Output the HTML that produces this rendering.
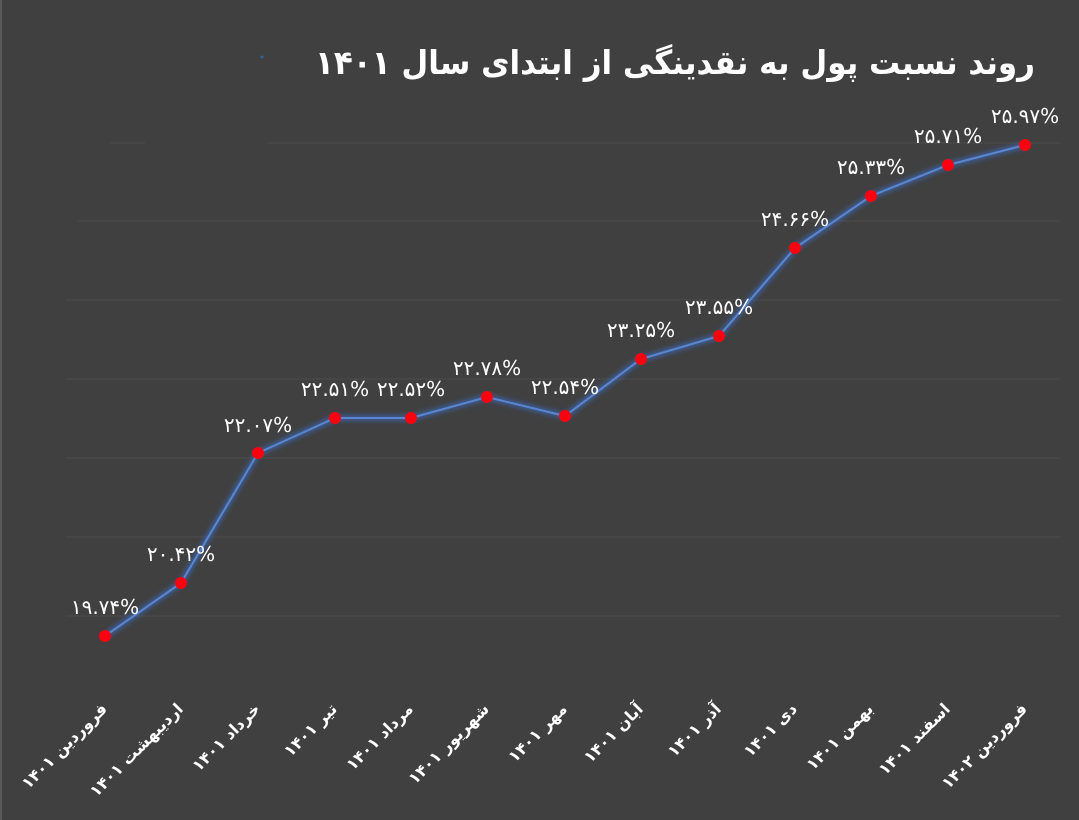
<!DOCTYPE html>
<html><head><meta charset="utf-8"><style>
html,body{margin:0;padding:0;background:#404040;}
svg{display:block}
text{font-family:"DejaVu Sans","Liberation Sans",sans-serif;fill:#fff;}
</style></head><body>
<svg width="1079" height="820" viewBox="0 0 1079 820" xmlns="http://www.w3.org/2000/svg">
<defs><filter id="g" x="-20%" y="-20%" width="140%" height="140%"><feGaussianBlur stdDeviation="2.5"/></filter></defs>
<rect width="1079" height="820" fill="#404040"/>
<line x1="1" y1="0" x2="1" y2="820" stroke="#5a5a5a" stroke-width="2"/>
<text x="1035" y="74" text-anchor="end" font-size="33" font-weight="bold" textLength="720" lengthAdjust="spacingAndGlyphs">روند نسبت پول به نقدینگی از ابتدای سال ۱۴۰۱</text>
<circle cx="262" cy="57" r="1.5" fill="#3060a0"/>
<g stroke="#4a4a4a" stroke-width="1.3">
<line x1="110" y1="143" x2="145" y2="143"/><line x1="268" y1="143" x2="1060" y2="143"/>
<line x1="78" y1="221" x2="1060" y2="221"/>
<line x1="66" y1="300" x2="1060" y2="300"/>
<line x1="66" y1="379" x2="1060" y2="379"/>
<line x1="66" y1="458" x2="1060" y2="458"/>
<line x1="66" y1="537" x2="1060" y2="537"/>
<line x1="66" y1="616" x2="1060" y2="616"/>
</g>
<polyline filter="url(#g)" fill="none" stroke="#3a70d0" stroke-width="6" opacity="0.6" points="105,636 181,583 258,453 335,418 411,418 487,397 565,416 641,359 719,336 795,248 871,196 948,165 1025,145"/>
<polyline fill="none" stroke="#5a86d0" stroke-width="2" points="105,636 181,583 258,453 335,418 411,418 487,397 565,416 641,359 719,336 795,248 871,196 948,165 1025,145"/>
<g fill="#ff0010">
<circle cx="105" cy="636" r="6"/><circle cx="181" cy="583" r="6"/><circle cx="258" cy="453" r="6"/><circle cx="335" cy="418" r="6"/><circle cx="411" cy="418" r="6"/><circle cx="487" cy="397" r="6"/><circle cx="565" cy="416" r="6"/><circle cx="641" cy="359" r="6"/><circle cx="719" cy="336" r="6"/><circle cx="795" cy="248" r="6"/><circle cx="871" cy="196" r="6"/><circle cx="948" cy="165" r="6"/><circle cx="1025" cy="145" r="6"/>
</g>
<g font-size="20" text-anchor="middle">
<text x="105" y="614">۱۹.۷۴%</text>
<text x="181" y="561">۲۰.۴۲%</text>
<text x="258" y="432">۲۲.۰۷%</text>
<text x="335" y="396">۲۲.۵۱%</text>
<text x="411" y="396">۲۲.۵۲%</text>
<text x="487" y="375">۲۲.۷۸%</text>
<text x="565" y="394">۲۲.۵۴%</text>
<text x="641" y="337">۲۳.۲۵%</text>
<text x="719" y="314">۲۳.۵۵%</text>
<text x="795" y="226">۲۴.۶۶%</text>
<text x="871" y="174">۲۵.۳۳%</text>
<text x="948" y="143">۲۵.۷۱%</text>
<text x="1025" y="123">۲۵.۹۷%</text>
</g>
<g font-size="16" font-weight="bold" text-anchor="end">
<text transform="translate(108,710) rotate(-45)">فروردین ۱۴۰۱</text>
<text transform="translate(184,710) rotate(-45)">اردیبهشت ۱۴۰۱</text>
<text transform="translate(261,710) rotate(-45)">خرداد ۱۴۰۱</text>
<text transform="translate(338,710) rotate(-45)">تیر ۱۴۰۱</text>
<text transform="translate(414,710) rotate(-45)">مرداد ۱۴۰۱</text>
<text transform="translate(490,710) rotate(-45)">شهریور ۱۴۰۱</text>
<text transform="translate(568,710) rotate(-45)">مهر ۱۴۰۱</text>
<text transform="translate(644,710) rotate(-45)">آبان ۱۴۰۱</text>
<text transform="translate(722,710) rotate(-45)">آذر ۱۴۰۱</text>
<text transform="translate(798,710) rotate(-45)">دی ۱۴۰۱</text>
<text transform="translate(874,710) rotate(-45)">بهمن ۱۴۰۱</text>
<text transform="translate(951,710) rotate(-45)">اسفند ۱۴۰۱</text>
<text transform="translate(1028,710) rotate(-45)">فروردین ۱۴۰۲</text>
</g>
</svg>
</body></html>
